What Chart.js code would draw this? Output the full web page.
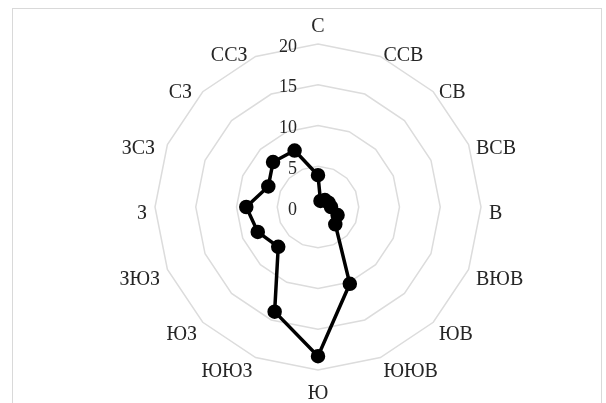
<!DOCTYPE html>
<html>
<head>
<meta charset="utf-8">
<script src="https://cdn.jsdelivr.net/npm/chart.js@4"></script>
<style>
    html, body { margin: 0; padding: 0; background: #fff; }
    #wrap { position: relative; width: 606px; height: 403px; overflow: hidden; }
    #frame { position: absolute; left: 12px; top: 8px; width: 588px; height: 430px; border: 1px solid #d9d9d9; pointer-events: none; }
</style>
</head>
<body>
<div id="wrap">
    <canvas id="windRose" width="606" height="403"></canvas>
    <div id="frame"></div>
</div>
<script>
// Directions (clockwise from north) and repeat frequency, %
const directions = ['С', 'ССВ', 'СВ', 'ВСВ', 'В', 'ВЮВ', 'ЮВ', 'ЮЮВ', 'Ю', 'ЮЮЗ', 'ЮЗ', 'ЗЮЗ', 'З', 'ЗСЗ', 'СЗ', 'ССЗ'];
const frequency = [3.9, 0.8, 1.2, 1.4, 1.6, 2.6, 3.0, 10.2, 18.3, 13.9, 6.9, 8.0, 8.8, 6.6, 7.8, 7.5];
const tickValues = [0, 5, 10, 15, 20];

const textColor = '#262626';

// Excel-style value labels left of the north axis (Chart.js skips the 0 label)
const tickLabelPlugin = {
    id: 'tickLabels',
    beforeDatasetsDraw(chart) {
        const scale = chart.scales.r;
        const ctx = chart.ctx;
        ctx.save();
        ctx.font = '18px "Liberation Serif"';
        ctx.fillStyle = textColor;
        ctx.textAlign = 'right';
        ctx.textBaseline = 'middle';
        tickValues.forEach(v => {
            const pos = scale.getPointPositionForValue(0, v);
            ctx.fillText(String(v), pos.x - 21, pos.y + 3);
        });
        ctx.restore();
    }
};

// Direction labels placed like Excel: vertically centred next to the outer ring
const pointLabelPlugin = {
    id: 'directionLabels',
    afterDraw(chart) {
        const scale = chart.scales.r;
        const ctx = chart.ctx;
        ctx.save();
        ctx.font = '20px "Liberation Serif"';
        ctx.fillStyle = textColor;
        ctx.textBaseline = 'middle';
        directions.forEach((label, i) => {
            const angle = scale.getIndexAngle(i);
            const sin = Math.sin(angle);
            const cos = Math.cos(angle);
            let x, y;
            if (Math.abs(sin) < 0.1) {
                const edge = scale.getPointPosition(i, scale.drawingArea);
                ctx.textAlign = 'center';
                x = edge.x;
                y = cos > 0 ? edge.y - 17 : edge.y + 24;
            } else {
                const pos = scale.getPointPosition(i, scale.drawingArea + 8);
                ctx.textAlign = sin > 0 ? 'left' : 'right';
                x = pos.x;
                // upper-left labels sit a little further out in the original
                if (sin < 0 && cos > 0) x -= 5;
                y = pos.y + 7;
            }
            ctx.fillText(label, x, y);
        });
        ctx.restore();
    }
};

const ctx = document.getElementById('windRose').getContext('2d');
new Chart(ctx, {
    type: 'radar',
    data: {
        labels: directions,
        datasets: [{
            data: frequency,
            borderColor: '#000',
            backgroundColor: 'rgba(0,0,0,0)',
            borderWidth: 3.5,
            pointRadius: 5.5,
            pointBackgroundColor: '#000',
            pointBorderColor: '#000',
            fill: false
        }]
    },
    options: {
        responsive: false,
        devicePixelRatio: 1,
        animation: false,
        layout: { padding: { top: 44, bottom: 33, left: 30, right: 0 } },
        plugins: {
            legend: { display: false },
            tooltip: { enabled: false }
        },
        scales: {
            r: {
                min: 0,
                max: 20,
                ticks: { stepSize: 5, display: false },
                grid: { circular: false, color: '#dcdcdc', lineWidth: 1.5 },
                angleLines: { display: false },
                pointLabels: { display: false }
            }
        }
    },
    plugins: [tickLabelPlugin, pointLabelPlugin]
});
</script>
</body>
</html>
